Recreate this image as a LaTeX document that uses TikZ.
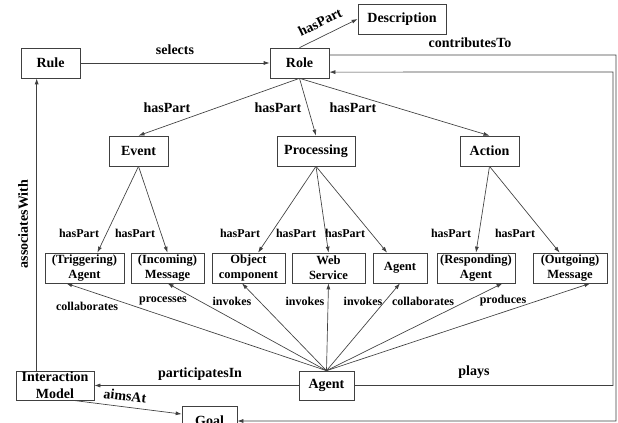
\documentclass[tikz,border=0pt]{standalone}
\usepackage{fontspec}
\setmainfont{Liberation Serif}
\usetikzlibrary{arrows.meta}

\begin{document}
\begin{tikzpicture}[x=0.75pt,y=0.75pt,yscale=-1,xscale=1,
    box/.style={draw=black!75, line width=0.5pt, fill=white, minimum height=22.5pt, inner sep=1pt, align=center, font=\fontsize{10.5}{11}\selectfont\bfseries},
    sbox/.style={box, font=\fontsize{9.4}{11.25}\selectfont\bfseries},
    lbl/.style={inner sep=0.75pt, font=\fontsize{10.5}{12}\selectfont\bfseries},
    slbl/.style={lbl, font=\fontsize{9}{11}\selectfont\bfseries},
    conn/.style={draw=black!75, line width=0.5pt, -{Latex[length=4.5pt,width=3pt]}}]
        \useasboundingbox (0,0) rectangle (618,423);
        \clip (0,0) rectangle (618,423);
        % Text Node
        \node (rule) at (50.5,63) [box, minimum width=44.25pt] {Rule};
        % Text Node
        \node (role) at (299.5,63) [box, minimum width=44.25pt] {Role};
        % Text Node
        \node (desc) at (402,19) [box, minimum width=66pt] {Description};
        % Text Node
        \node (event) at (138.5,151) [box, minimum width=44.25pt] {Event};
        % Text Node
        \node (proc) at (316,151) [box, minimum width=58.5pt] {Processing};
        % Text Node
        \node (action) at (489.5,151) [box, minimum width=44.25pt] {Action};
        % Text Node
        \node (trig) at (84.5,268) [sbox, minimum width=59.25pt] {(Triggering)\\Agent};
        % Text Node
        \node (inmsg) at (167.5,268) [sbox, minimum width=54.75pt] {(Incoming)\\Message};
        % Text Node
        \node (objcomp) at (248.5,268) [sbox, minimum width=54.75pt] {Object\\component};
        % Text Node
        \node (websvc) at (328.5,268) [sbox, minimum width=54.75pt] {Web\\Service};
        % Text Node
        \node (pagent) at (400,268) [sbox, minimum width=40.5pt] {Agent};
        % Text Node
        \node (resp) at (476,268) [sbox, minimum width=58.5pt] {(Responding)\\Agent};
        % Text Node
        \node (outmsg) at (570,268) [sbox, minimum width=55.5pt] {(Outgoing)\\Message};
        % Text Node
        \node (agent) at (326.5,385.5) [box, minimum width=41.25pt, minimum height=21.75pt] {Agent};
        % Text Node
        \node (imodel) at (55,385.5) [box, minimum width=58.5pt, minimum height=21.75pt, inner ysep=0pt, font=\fontsize{10.5}{12.5}\selectfont\bfseries] {Interaction\\Model};
        % Text Node
        \node (goal) at (209.5,421) [box, minimum width=41.25pt] {Goal};
        % Text Node
        \coordinate (playsturn) at (613,72);
        \coordinate (ctturn) at (616,55);
        % Text Node
        \node (lsel) at (175,50) [lbl] {selects};
        % Text Node
        \node (lhpd) at (320,22) [lbl, rotate=26] {hasPart};
        % Text Node
        \node (lcon) at (470,43) [lbl] {contributesTo};
        % Text Node
        \node (lhp1) at (167,108) [lbl] {hasPart};
        % Text Node
        \node (lhp2) at (278,108) [lbl] {hasPart};
        % Text Node
        \node (lhp3) at (353,108) [lbl] {hasPart};
        % Text Node
        \node (lhq1) at (79,233) [slbl] {hasPart};
        % Text Node
        \node (lhq2) at (135,233) [slbl] {hasPart};
        % Text Node
        \node (lhq3) at (240,233) [slbl] {hasPart};
        % Text Node
        \node (lhq4) at (296,233) [slbl] {hasPart};
        % Text Node
        \node (lhq5) at (345,233) [slbl] {hasPart};
        % Text Node
        \node (lhq6) at (451,233) [slbl] {hasPart};
        % Text Node
        \node (lhq7) at (515,233) [slbl] {hasPart};
        % Text Node
        \node (lcol1) at (87,306) [slbl] {collaborates};
        % Text Node
        \node (lpro) at (163,301) [slbl] {processes};
        % Text Node
        \node (linv1) at (232,301) [slbl] {invokes};
        % Text Node
        \node (linv2) at (305,301) [slbl] {invokes};
        % Text Node
        \node (linv3) at (363,301) [slbl] {invokes};
        % Text Node
        \node (lcol2) at (423,301) [slbl] {collaborates};
        % Text Node
        \node (lprd) at (503,301) [slbl] {produces};
        % Text Node
        \node (lpar) at (200,374) [lbl] {participatesIn};
        % Text Node
        \node (lpla) at (474,372) [lbl] {plays};
        % Text Node
        \node (laim) at (125,396) [lbl, rotate=-7] {aimsAt};
        % Text Node
        \node (lass) at (23,224) [lbl, rotate=90] {associatesWith};
        % Connection
        \draw [conn] (rule) -- (role);
        % Connection
        \draw [conn] (role.north) -- (desc.west);
        % Connection
        \draw [conn] (role.south) -- (event.north);
        % Connection
        \draw [conn] (role.south) -- (proc.north);
        % Connection
        \draw [conn] (role.south) -- (action.north);
        % Connection
        \draw [conn] (event.south) -- (trig.50);
        % Connection
        \draw [conn] (event.south) -- (inmsg.north);
        % Connection
        \draw [conn] (proc.south) -- (objcomp.58);
        % Connection
        \draw [conn] (proc.south) -- (websvc.north);
        % Connection
        \draw [conn] (proc.south) -- (pagent.130);
        % Connection
        \draw [conn] (action.south) -- (resp.north);
        % Connection
        \draw [conn] (action.south) -- (outmsg.124);
        % Connection
        \draw [conn] (agent.north) -- (trig.220);
        % Connection
        \draw [conn] (agent.north) -- (inmsg.south);
        % Connection
        \draw [conn] (agent.north) -- (objcomp.247);
        % Connection
        \draw [conn] (agent.north) -- (websvc.south);
        % Connection
        \draw [conn] (agent.north) -- (pagent.south);
        % Connection
        \draw [conn] (agent.north) -- (resp.330);
        % Connection
        \draw [conn] (agent.north) -- (outmsg.323);
        % Connection
        \draw [conn] (agent.west) -- (imodel.east);
        % Connection
        \draw [conn] (agent.east) -| (playsturn) -- (role.343);
        % Connection
        \draw [conn] (role.15) -- (ctturn) |- (goal.east);
        % Connection
        \draw [conn] (imodel.320) -- (goal.166);
        % Connection
        \draw [conn] (imodel.141) -- (imodel.141 |- rule.south);
    \end{tikzpicture}
\end{document}
